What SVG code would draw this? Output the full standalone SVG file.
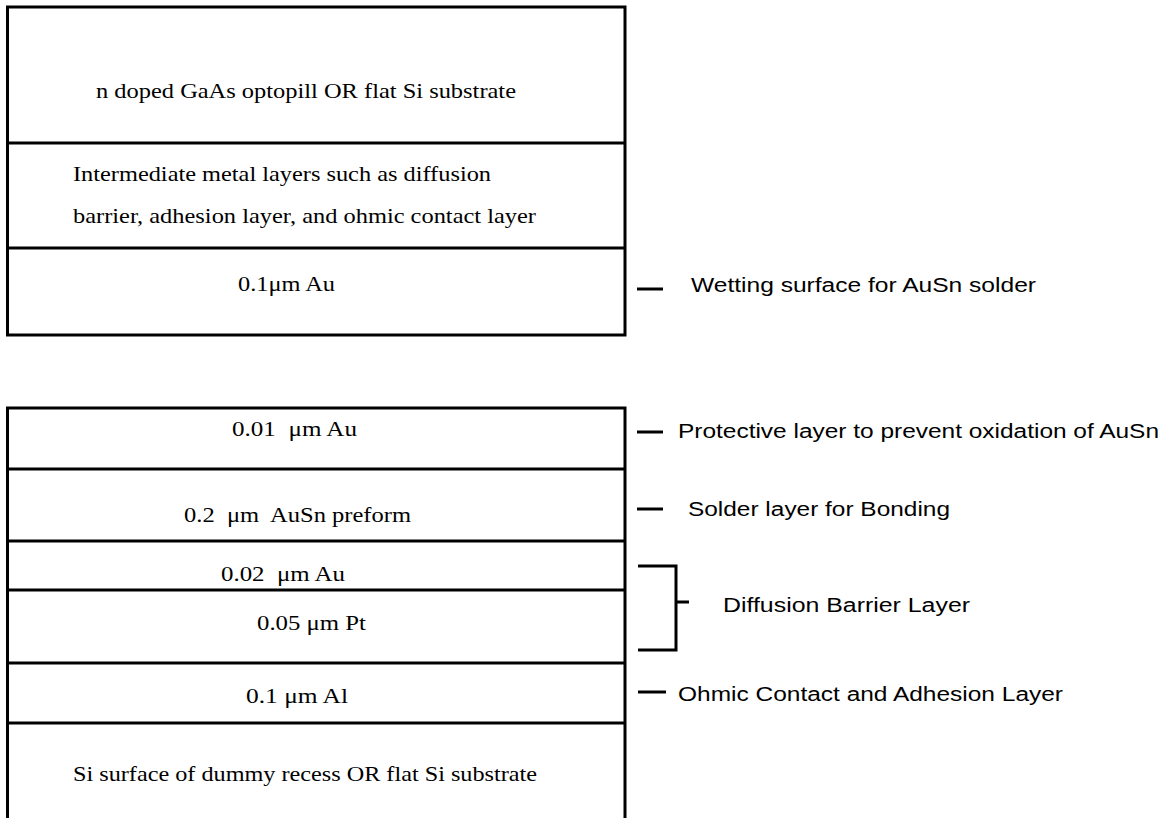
<svg xmlns="http://www.w3.org/2000/svg" width="1172" height="818" viewBox="0 0 1172 818">
  <style>
    .frame { fill: none; stroke: #000; stroke-width: 3; }
    .rule { fill: none; stroke: #000; stroke-width: 3; }
    .layer { font-family: "Liberation Serif", "Times New Roman", serif; font-size: 21px; fill: #000; white-space: pre; }
    .note { font-family: "Liberation Sans", Arial, sans-serif; font-size: 19.5px; fill: #000; white-space: pre; }
  </style>
  <rect width="1172" height="818" fill="#fff"/>

  <!-- Upper stack: optopill side -->
  <g id="top-stack">
    <rect class="frame" x="7.5" y="7" width="617.5" height="328"/>
    <line class="rule" x1="7.5" y1="143" x2="625" y2="143"/>
    <line class="rule" x1="7.5" y1="248" x2="625" y2="248"/>
  </g>
  <g id="layer-gaas">
    <text class="layer" x="96" y="98" textLength="420" lengthAdjust="spacingAndGlyphs">n doped GaAs optopill OR flat Si substrate</text>
  </g>
  <g id="layer-intermediate">
    <text class="layer" x="73" y="181" textLength="418" lengthAdjust="spacingAndGlyphs">Intermediate metal layers such as diffusion</text>
    <text class="layer" x="73" y="223" textLength="463" lengthAdjust="spacingAndGlyphs">barrier, adhesion layer, and ohmic contact layer</text>
  </g>
  <g id="layer-au-wetting">
    <text class="layer" x="238" y="291" textLength="97" lengthAdjust="spacingAndGlyphs">0.1μm Au</text>
  </g>

  <!-- Lower stack: substrate side, open at the bottom -->
  <g id="bottom-stack">
    <path class="frame" d="M7.5,818 V408 H625 V818"/>
    <line class="rule" x1="7.5" y1="469" x2="625" y2="469"/>
    <line class="rule" x1="7.5" y1="541" x2="625" y2="541"/>
    <line class="rule" x1="7.5" y1="590" x2="625" y2="590"/>
    <line class="rule" x1="7.5" y1="663" x2="625" y2="663"/>
    <line class="rule" x1="7.5" y1="723" x2="625" y2="723"/>
  </g>
  <g id="layer-au-cap">
    <text class="layer" x="232" y="436" textLength="125" lengthAdjust="spacingAndGlyphs">0.01  μm Au</text>
  </g>
  <g id="layer-ausn">
    <text class="layer" x="184" y="522" textLength="227" lengthAdjust="spacingAndGlyphs">0.2  μm  AuSn preform</text>
  </g>
  <g id="layer-au-barrier">
    <text class="layer" x="221" y="581" textLength="124" lengthAdjust="spacingAndGlyphs">0.02  μm Au</text>
  </g>
  <g id="layer-pt">
    <text class="layer" x="257" y="630" textLength="109" lengthAdjust="spacingAndGlyphs">0.05 μm Pt</text>
  </g>
  <g id="layer-al">
    <text class="layer" x="246" y="703" textLength="102" lengthAdjust="spacingAndGlyphs">0.1 μm Al</text>
  </g>
  <g id="layer-si">
    <text class="layer" x="73" y="781" textLength="464" lengthAdjust="spacingAndGlyphs">Si surface of dummy recess OR flat Si substrate</text>
  </g>

  <!-- Leader marks -->
  <g id="connectors">
    <line class="rule" x1="637" y1="289" x2="663" y2="289"/>
    <line class="rule" x1="637" y1="432" x2="663" y2="432"/>
    <line class="rule" x1="637" y1="509" x2="663" y2="509"/>
    <path class="rule" d="M638,566 H676 V650 H638 M676,602 H689"/>
    <line class="rule" x1="638" y1="692" x2="666" y2="692"/>
  </g>

  <!-- Callouts -->
  <g id="note-wetting">
    <text class="note" x="691" y="292" textLength="345" lengthAdjust="spacingAndGlyphs">Wetting surface for AuSn solder</text>
  </g>
  <g id="note-protective">
    <text class="note" x="678" y="438" textLength="481" lengthAdjust="spacingAndGlyphs">Protective layer to prevent oxidation of AuSn</text>
  </g>
  <g id="note-solder">
    <text class="note" x="688" y="516" textLength="262" lengthAdjust="spacingAndGlyphs">Solder layer for Bonding</text>
  </g>
  <g id="note-barrier">
    <text class="note" x="723" y="612" textLength="247" lengthAdjust="spacingAndGlyphs">Diffusion Barrier Layer</text>
  </g>
  <g id="note-ohmic">
    <text class="note" x="678" y="701" textLength="385" lengthAdjust="spacingAndGlyphs">Ohmic Contact and Adhesion Layer</text>
  </g>
</svg>
